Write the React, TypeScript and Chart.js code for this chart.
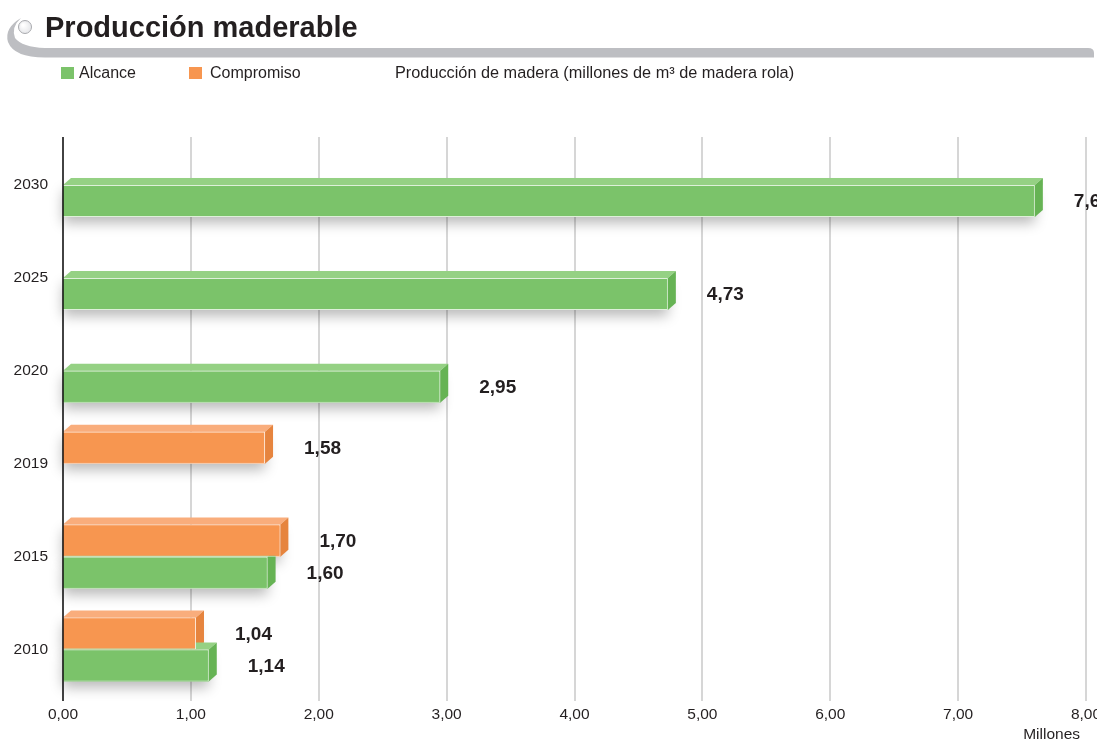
import React, { useEffect, useRef } from 'react';
import { Chart, registerables } from 'chart.js';

Chart.register(...registerables);

const categories = ['2030', '2025', '2020', '2019', '2015', '2010'];
const compromiso: (number | null)[] = [null, null, null, 1.58, 1.7, 1.04];
const alcance: (number | null)[] = [7.6, 4.73, 2.95, null, 1.6, 1.14];
const xMin = 0;
const xMax = 8;
const xStep = 1;
const titleText = 'Producción maderable';
const legendLabels = ['Alcance', 'Compromiso'];
const subtitleText = 'Producción de madera (millones de m³ de madera rola)';
const unitText = 'Millones';

const FONT = '"Liberation Sans", Arial, Helvetica, sans-serif';
const TEXT = '#231f20';

const GREEN = { front: '#7bc36a', top: '#95d184', side: '#66b354' };
const ORANGE = { front: '#f79650', top: '#f9ad7c', side: '#e6843e' };

const fmt = (v: number) => v.toFixed(2).replace('.', ',');

const DX = 8;
const DY = 7;
const GRID_TOP = 137;
const GRID_BOTTOM = 701;

const decorPlugin = {
  id: 'decor',
  beforeDraw(chart: any) {
    const ctx = chart.ctx as CanvasRenderingContext2D;
    ctx.save();
    // swoosh
    ctx.fillStyle = '#bdbec2';
    ctx.beginPath();
    ctx.moveTo(21, 18);
    ctx.quadraticCurveTo(4, 28, 8, 42);
    ctx.quadraticCurveTo(14, 57.5, 45, 57.5);
    ctx.lineTo(1089, 57.5);
    ctx.lineTo(1094, 57.5);
    ctx.lineTo(1094, 53);
    ctx.quadraticCurveTo(1094, 48, 1088, 48);
    ctx.lineTo(45, 48);
    ctx.quadraticCurveTo(22, 47, 15, 38);
    ctx.quadraticCurveTo(11, 27, 21, 18);
    ctx.closePath();
    ctx.fill();
    ctx.strokeStyle = 'rgba(255,255,255,0.8)';
    ctx.lineWidth = 1;
    ctx.beginPath();
    ctx.moveTo(50, 47.5);
    ctx.lineTo(1088, 47.5);
    ctx.stroke();
    // circle
    const g = ctx.createRadialGradient(23, 25, 1, 25, 27, 7);
    g.addColorStop(0, '#ffffff');
    g.addColorStop(1, '#e4e5e8');
    ctx.fillStyle = g;
    ctx.strokeStyle = '#a9aaae';
    ctx.lineWidth = 1;
    ctx.beginPath();
    ctx.arc(25, 27, 6.5, 0, Math.PI * 2);
    ctx.fill();
    ctx.stroke();
    // title
    ctx.fillStyle = TEXT;
    ctx.font = `bold 29px ${FONT}`;
    ctx.textBaseline = 'alphabetic';
    ctx.textAlign = 'left';
    ctx.fillText(titleText, 45, 37);
    // legend
    ctx.font = `16px ${FONT}`;
    ctx.fillStyle = GREEN.front;
    ctx.fillRect(61, 67, 13, 12);
    ctx.fillStyle = ORANGE.front;
    ctx.fillRect(189, 67, 13, 12);
    ctx.fillStyle = TEXT;
    ctx.fillText(legendLabels[0], 79, 78);
    ctx.fillText(legendLabels[1], 210, 78);
    ctx.font = `16.3px ${FONT}`;
    ctx.fillText(subtitleText, 395, 78);
    // unit
    ctx.font = `15.5px ${FONT}`;
    ctx.textAlign = 'right';
    ctx.fillText(unitText, 1080, 739);
    ctx.restore();
  },
  beforeDatasetsDraw(chart: any) {
    const ctx = chart.ctx as CanvasRenderingContext2D;
    const xs = chart.scales.x;
    // vertical grid lines
    ctx.save();
    ctx.strokeStyle = '#d6d6d6';
    ctx.lineWidth = 2;
    xs.ticks.forEach((t: any) => {
      const px = Math.round(xs.getPixelForValue(t.value));
      ctx.beginPath();
      ctx.moveTo(px, GRID_TOP);
      ctx.lineTo(px, GRID_BOTTOM);
      ctx.stroke();
    });
    ctx.restore();
    const sets = [ORANGE, GREEN];
    // shadows
    ctx.save();
    for (let d = 0; d < chart.data.datasets.length; d++) {
      const meta = chart.getDatasetMeta(d);
      meta.data.forEach((el: any, i: number) => {
        const v = chart.data.datasets[d].data[i];
        if (v === null || v === undefined) return;
        const p = el.getProps(['x', 'y', 'base', 'height'], true);
        const top = p.y - p.height / 2;
        ctx.shadowColor = 'rgba(0,0,0,0.28)';
        ctx.shadowBlur = 13;
        ctx.shadowOffsetX = 0;
        ctx.shadowOffsetY = 6;
        ctx.fillStyle = sets[d].front;
        ctx.fillRect(p.base, top, p.x - p.base, p.height);
      });
    }
    ctx.restore();
    // 3D faces
    ctx.save();
    for (let d = 0; d < chart.data.datasets.length; d++) {
      const meta = chart.getDatasetMeta(d);
      meta.data.forEach((el: any, i: number) => {
        const v = chart.data.datasets[d].data[i];
        if (v === null || v === undefined) return;
        const p = el.getProps(['x', 'y', 'base', 'height'], true);
        const top = p.y - p.height / 2;
        const bottom = p.y + p.height / 2;
        ctx.fillStyle = sets[d].top;
        ctx.beginPath();
        ctx.moveTo(p.base, top);
        ctx.lineTo(p.x, top);
        ctx.lineTo(p.x + DX, top - DY);
        ctx.lineTo(p.base + DX, top - DY);
        ctx.closePath();
        ctx.fill();
        ctx.fillStyle = sets[d].side;
        ctx.beginPath();
        ctx.moveTo(p.x, top);
        ctx.lineTo(p.x + DX, top - DY);
        ctx.lineTo(p.x + DX, bottom - DY);
        ctx.lineTo(p.x, bottom);
        ctx.closePath();
        ctx.fill();
      });
    }
    ctx.restore();
  },
  afterDatasetsDraw(chart: any) {
    const ctx = chart.ctx as CanvasRenderingContext2D;
    ctx.save();
    // y axis line
    const ax = chart.chartArea.left;
    ctx.strokeStyle = '#111';
    ctx.lineWidth = 1.5;
    ctx.beginPath();
    ctx.moveTo(ax, GRID_TOP);
    ctx.lineTo(ax, GRID_BOTTOM);
    ctx.stroke();
    // value labels
    ctx.font = `bold 19px ${FONT}`;
    ctx.fillStyle = TEXT;
    ctx.textAlign = 'left';
    ctx.textBaseline = 'middle';
    for (let d = 0; d < chart.data.datasets.length; d++) {
      const meta = chart.getDatasetMeta(d);
      meta.data.forEach((el: any, i: number) => {
        const v = chart.data.datasets[d].data[i];
        if (v === null || v === undefined) return;
        const p = el.getProps(['x', 'y'], true);
        ctx.fillText(fmt(v), p.x + 39, p.y + 1);
      });
    }
    ctx.restore();
  },
};

export default function App() {
  const ref = useRef<HTMLCanvasElement | null>(null);
  useEffect(() => {
    document.body.style.margin = '0';
    if (!ref.current) return;
    const chart = new Chart(ref.current, {
      type: 'bar',
      data: {
        labels: categories,
        datasets: [
          {
            label: legendLabels[1],
            data: compromiso,
            backgroundColor: ORANGE.front,
            borderColor: 'rgba(255,255,255,0.75)',
            borderWidth: 1,
            borderSkipped: 'start',
          },
          {
            label: legendLabels[0],
            data: alcance,
            backgroundColor: GREEN.front,
            borderColor: 'rgba(255,255,255,0.75)',
            borderWidth: 1,
            borderSkipped: 'start',
          },
        ],
      },
      options: {
        indexAxis: 'y',
        responsive: false,
        animation: false,
        devicePixelRatio: 1,
        datasets: { bar: { categoryPercentage: 0.69, barPercentage: 1 } },
        layout: { padding: { top: 138.5, right: 11, left: 0, bottom: 0 } },
        plugins: { legend: { display: false }, tooltip: { enabled: false }, title: { display: false } },
        scales: {
          x: {
            type: 'linear',
            min: xMin,
            max: xMax,
            ticks: {
              stepSize: xStep,
              callback: (v: any) => fmt(Number(v)),
              color: TEXT,
              font: { family: FONT, size: 15.5 },
              padding: 9,
              maxRotation: 0,
            },
            grid: { display: false, drawTicks: false, tickLength: 0 },
            border: { display: false },
            afterFit: (s: any) => {
              s.height = 44;
              s.paddingLeft = 0;
              s.paddingRight = 0;
            },
          },
          y: {
            type: 'category',
            ticks: { color: TEXT, font: { family: FONT, size: 15.5 }, padding: 15 },
            grid: { display: false, drawTicks: false, tickLength: 0 },
            border: { display: false },
            afterFit: (s: any) => {
              s.width = 63;
              s.paddingTop = 0;
              s.paddingBottom = 0;
            },
          },
        },
      } as any,
      plugins: [decorPlugin],
    });
    return () => chart.destroy();
  }, []);
  return (
    <div style={{ position: 'absolute', left: 0, top: 0, width: 1097, height: 740 }}>
      <canvas ref={ref} width={1097} height={740} style={{ display: 'block' }} />
    </div>
  );
}
